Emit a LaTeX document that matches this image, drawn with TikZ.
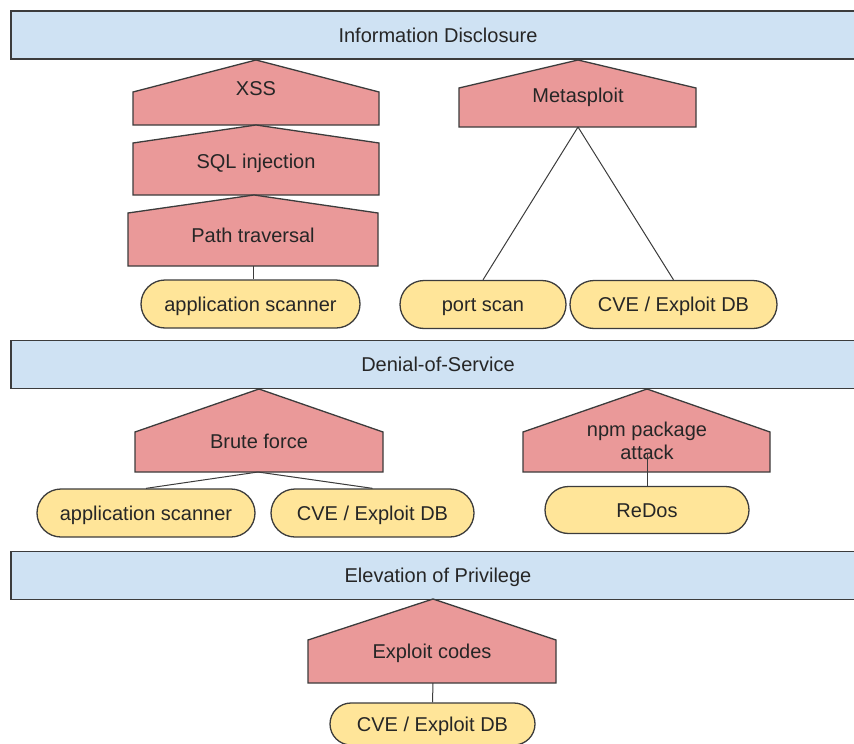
\documentclass[tikz,border=0pt]{standalone}
\usepackage{fontspec}
\setmainfont{Liberation Sans}
\definecolor{BarBlue}{HTML}{CFE2F3}
\definecolor{AttackRed}{HTML}{EA9999}
\definecolor{ToolYellow}{HTML}{FFE599}
\definecolor{EdgeGray}{HTML}{3C3C3C}
\definecolor{TextDark}{HTML}{262626}
\usetikzlibrary{positioning,shapes.misc}

\begin{document}
\begin{tikzpicture}[x=1pt, y=-1pt, font=\fontsize{20}{23}\selectfont,
    bar/.style={draw=EdgeGray, line width=1.3pt, fill=BarBlue, text=TextDark, minimum width=854pt, minimum height=48pt, text height=18pt, text depth=4pt},
    house/.style={draw=EdgeGray, line width=1.3pt, fill=AttackRed},
    attack/.style={text=TextDark, inner sep=0pt, text height=14pt, text depth=4pt},
    tool/.style={rounded rectangle, draw=EdgeGray, line width=1.3pt, fill=ToolYellow, text=TextDark, minimum height=48pt, inner xsep=0pt, text height=18pt, text depth=4pt},
    link/.style={draw=EdgeGray, line width=1pt}]
      \useasboundingbox (0,0) rectangle (854,744);
      \clip (0,0) rectangle (854,744);

      \node[bar] (infobar) at (438,35) {Information Disclosure};
      \node[bar] (dosbar) at (438,364.5) {Denial-of-Service};
      \node[bar] (privbar) at (438,575.5) {Elevation of Privilege};

      % Information Disclosure
      \filldraw[house] (133,125) -- (133,92) -- (256,60) -- (379,92) -- (379,125) -- cycle;
      \filldraw[house] (133,195) -- (133,143) -- (256,125) -- (379,143) -- (379,195) -- cycle;
      \filldraw[house] (128,266) -- (128,213) -- (254,195) -- (378,213) -- (378,266) -- cycle;
      \filldraw[house] (459,127) -- (459,88) -- (578,60) -- (696,88) -- (696,127) -- cycle;
      \node[attack] (xss) at (256,90.5) {XSS};
      \node[attack] (sqli) at (256,163) {SQL injection};
      \node[attack] (path) at (253,237) {Path traversal};
      \node[attack] (msf) at (578,97) {Metasploit};
      \coordinate (pathbot) at (253,266);
      \coordinate (msfbot) at (578,127);

      \node[tool, minimum width=219pt] (appscan1) at (250.5,304) {application scanner};
      \node[tool, minimum width=166pt] (portscan) at (483,304.5) {port scan};
      \node[tool, minimum width=207pt] (cve1) at (673.5,304.5) {CVE / Exploit DB};
      \draw[link] (pathbot) -- (pathbot |- appscan1.north);
      \draw[link] (msfbot) -- (portscan.north);
      \draw[link] (msfbot) -- (cve1.north);

      % Denial-of-Service
      \filldraw[house] (135,472) -- (135,432) -- (259,389) -- (383,432) -- (383,472) -- cycle;
      \filldraw[house] (523,472) -- (523,432) -- (647,389) -- (770,432) -- (770,472) -- cycle;
      \node[attack] (brute) at (259,443.5) {Brute force};
      \node[text=TextDark, inner sep=0pt, align=center] (npm) at (647,441) {npm package\\attack};
      \coordinate (brutebot) at (258,472);

      \node[tool, minimum width=218pt] (appscan2) at (146,513) {application scanner};
      \node[tool, minimum width=203pt] (cve2) at (372.5,513) {CVE / Exploit DB};
      \node[tool, minimum width=204pt, minimum height=47pt] (redos) at (647,510) {ReDos};
      \draw[link] (brutebot) -- (appscan2.north);
      \draw[link] (brutebot) -- (cve2.north);
      \draw[link] ([yshift=7pt]npm.south) -- (redos.north);

      % Elevation of Privilege
      \filldraw[house] (308,683) -- (308,640) -- (433,599) -- (556,640) -- (556,683) -- cycle;
      \node[attack] (exploit) at (432,653) {Exploit codes};
      \coordinate (exploitbot) at (433,683);
      \node[tool, minimum width=205pt, minimum height=42pt] (cve3) at (432.5,724) {CVE / Exploit DB};
      \draw[link] (exploitbot) -- (cve3.north);
    \end{tikzpicture}
\end{document}
